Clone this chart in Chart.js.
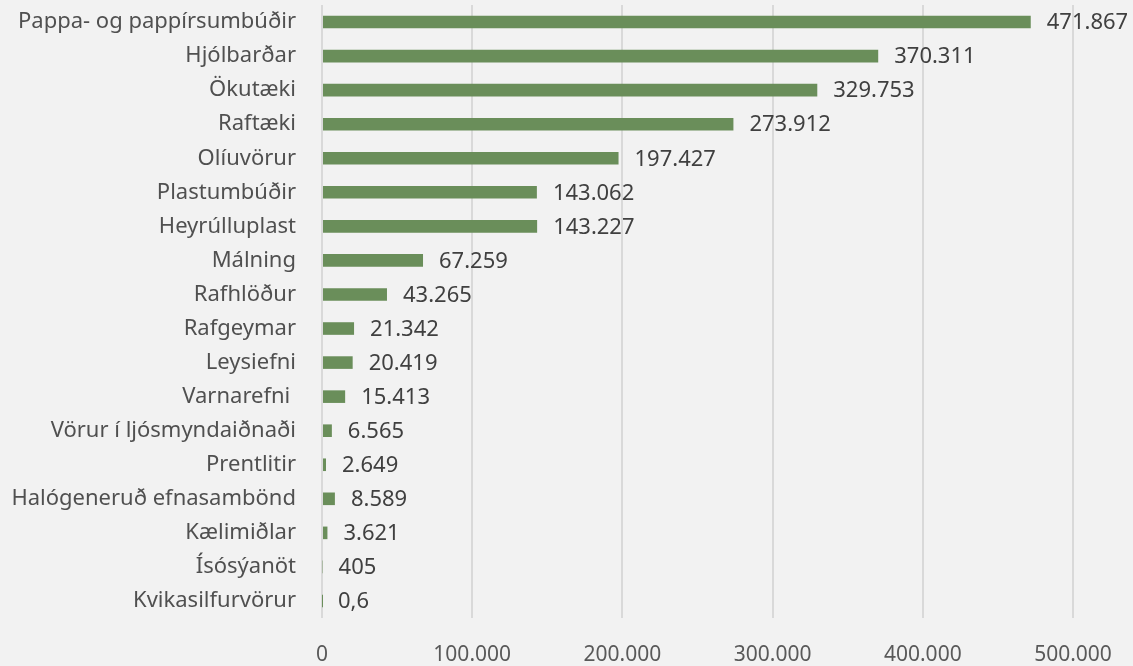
<!DOCTYPE html>
<html>
<head>
<meta charset="utf-8">
<script src="https://cdn.jsdelivr.net/npm/chart.js@4/dist/chart.umd.min.js"></script>
<style>
  html, body { margin: 0; padding: 0; background: #f2f2f2; }
  #wrap { width: 1133px; height: 666px; }
</style>
</head>
<body>
<div id="wrap"><canvas id="chart" width="1133" height="666"></canvas></div>
<script>
var categories = [
    'Pappa- og pappírsumbúðir', 'Hjólbarðar', 'Ökutæki', 'Raftæki', 'Olíuvörur',
    'Plastumbúðir', 'Heyrúlluplast', 'Málning', 'Rafhlöður', 'Rafgeymar',
    'Leysiefni', 'Varnarefni ', 'Vörur í ljósmyndaiðnaði', 'Prentlitir',
    'Halógeneruð efnasambönd', 'Kælimiðlar', 'Ísósýanöt', 'Kvikasilfurvörur'
];
var amounts = [
    471867, 370311, 329753, 273912, 197427,
    143062, 143227, 67259, 43265, 21342,
    20419, 15413, 6565, 2649,
    8589, 3621, 405, 0.6
];
var axisTicks = [0, 100000, 200000, 300000, 400000, 500000];

var textColor = '#404040';
var fontFamily = '"Noto Sans", "Open Sans", sans-serif';

// icelandic style: dot for thousands, comma for decimals
function fmt(v) {
    var parts = String(v).split('.');
    var whole = parts[0].replace(/\B(?=(\d{3})+(?!\d))/g, '.');
    return parts.length > 1 ? whole + ',' + parts[1] : whole;
}

var valueLabels = {
    id: 'valueLabels',
    afterDatasetsDraw: function (chart) {
        var ctx = chart.ctx;
        var meta = chart.getDatasetMeta(0);
        ctx.save();
        ctx.font = '22px ' + fontFamily;
        ctx.fillStyle = textColor;
        ctx.textAlign = 'left';
        ctx.textBaseline = 'middle';
        meta.data.forEach(function (bar, i) {
            ctx.fillText(fmt(amounts[i]), bar.x + 16, bar.y + 1);
        });
        ctx.restore();
    }
};

new Chart(document.getElementById('chart').getContext('2d'), {
    type: 'bar',
    data: {
        labels: categories,
        datasets: [{
            data: amounts,
            backgroundColor: '#6a8e5a',
            barPercentage: 0.37,
            categoryPercentage: 1.0
        }]
    },
    options: {
        indexAxis: 'y',
        responsive: false,
        animation: false,
        layout: { padding: { top: 5, right: 60, bottom: 0, left: 0 } },
        plugins: {
            legend: { display: false },
            tooltip: { enabled: false }
        },
        scales: {
            x: {
                min: 0,
                max: 500000,
                afterBuildTicks: function (scale) {
                    scale.ticks = axisTicks.map(function (v) { return { value: v }; });
                },
                afterFit: function (scale) {
                    scale.height = 48;
                    scale.paddingLeft = 0;
                    scale.paddingRight = 0;
                },
                grid: { color: '#d9d9d9', lineWidth: 2, drawTicks: false },
                border: { display: false },
                ticks: {
                    padding: 24,
                    color: '#595959',
                    font: { size: 21, family: fontFamily },
                    callback: function (v) { return fmt(v); }
                }
            },
            y: {
                afterFit: function (scale) {
                    scale.width = 322;
                    scale.paddingTop = 0;
                    scale.paddingBottom = 0;
                },
                grid: { display: false, drawTicks: false },
                border: { display: false },
                ticks: {
                    padding: 26,
                    color: '#505050',
                    font: { size: 22, family: fontFamily }
                }
            }
        }
    },
    plugins: [valueLabels]
});
</script>
</body>
</html>
